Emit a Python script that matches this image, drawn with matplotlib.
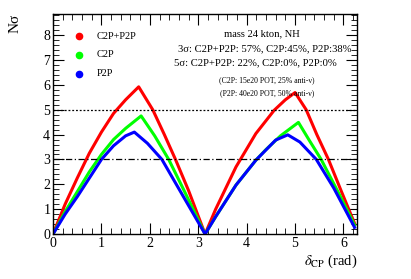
import matplotlib
matplotlib.use("Agg")
import matplotlib.pyplot as plt
import numpy as np
from matplotlib.ticker import MultipleLocator

plt.rcParams['font.family'] = ['Liberation Serif', 'DejaVu Serif']
plt.rcParams['mathtext.fontset'] = 'stix'

# delta_CP values (rad) and significance for each configuration
red_x = [0.0, 0.25, 0.5, 0.75, 1.0, 1.25, 1.5, 1.77, 2.06, 2.3, 2.53, 2.8, 3.1416,
         3.36, 3.78, 4.19, 4.57, 4.8, 5.0, 5.23, 5.45, 5.69, 5.95, 6.23]
red_y = [0.0, 1.2, 2.25, 3.25, 4.1, 4.85, 5.4, 5.92, 5.0, 4.0, 3.0, 1.75, 0.0,
         1.0, 2.7, 4.04, 4.98, 5.4, 5.69, 5.0, 4.0, 3.0, 1.75, 0.43]

green_x = [0.0, 0.25, 0.5, 0.75, 1.0, 1.25, 1.5, 1.82, 2.1, 2.39, 2.7, 3.1416,
           3.36, 3.78, 4.19, 4.4, 4.7, 5.07, 5.3, 5.54, 5.9, 6.23]
green_y = [0.0, 0.9, 1.7, 2.5, 3.2, 3.8, 4.25, 4.75, 3.95, 3.0, 1.78, 0.0,
           0.7, 1.97, 2.97, 3.4, 3.95, 4.49, 3.75, 3.0, 1.65, 0.36]

blue_x = [0.0, 0.25, 0.5, 0.75, 1.0, 1.25, 1.5, 1.68, 1.95, 2.25, 2.6, 3.1416,
          3.36, 3.78, 4.19, 4.6, 4.85, 5.1, 5.44, 5.8, 6.23]
blue_y = [0.0, 0.8, 1.5, 2.25, 3.0, 3.55, 3.95, 4.1, 3.65, 3.0, 1.82, 0.0,
          0.7, 1.97, 2.97, 3.78, 3.99, 3.7, 3.0, 1.85, 0.27]

labels = ['C2P+P2P', 'C2P', 'P2P']
colors = ['#ff0000', '#00ff00', '#0000ff']

fig = plt.figure(figsize=(4.11, 2.79), dpi=100)
ax = fig.add_axes([0.129, 0.161, 0.740, 0.789])

for xs, ys, c, lab in zip([red_x, green_x, blue_x], [red_y, green_y, blue_y], colors, labels):
    ax.plot(xs, ys, color=c, lw=2.2, solid_joinstyle='round', label=lab)

ax.axhline(5, color='black', lw=0.9, ls=(0, (1.5, 1.5)))
ax.axhline(3, color='black', lw=0.9, ls=(0, (5, 2, 1, 2)))

ax.set_xlim(0, 2 * np.pi)
ax.set_ylim(0, 8.85)
ax.xaxis.set_major_locator(MultipleLocator(1))
ax.xaxis.set_minor_locator(MultipleLocator(0.2))
ax.yaxis.set_major_locator(MultipleLocator(1))
ax.yaxis.set_minor_locator(MultipleLocator(0.2))
ax.tick_params(which='both', direction='in', top=True, right=True, labelsize=10, pad=2)
ax.tick_params(which='major', length=8, width=0.8)
ax.tick_params(which='minor', length=4, width=0.6)
for s in ax.spines.values():
    s.set_linewidth(1.0)

# legend as markers + text
leg_y = [7.95, 7.2, 6.45]
for yy, c, lab in zip(leg_y, colors, labels):
    ax.plot([0.53], [yy], 'o', color=c, ms=4.5)
    ax.text(0.9, yy, lab, fontsize=7.5, va='center', ha='left')

ax.text(4.32, 8.04, 'mass 24 kton, NH', fontsize=7.6, ha='center', va='center')
ax.text(4.38, 7.45, '3σ: C2P+P2P: 57%, C2P:45%, P2P:38%', fontsize=7.7, ha='center', va='center')
ax.text(4.18, 6.87, '5σ: C2P+P2P: 22%, C2P:0%, P2P:0%', fontsize=7.7, ha='center', va='center')
ax.text(4.42, 6.2, '(C2P: 15e20 POT, 25% anti-ν)', fontsize=5.6, ha='center', va='center')
ax.text(4.42, 5.66, '(P2P: 40e20 POT, 50% anti-ν)', fontsize=5.6, ha='center', va='center')

ax.set_xlabel(r'$\delta_{\mathrm{CP}}$ (rad)', fontsize=10.5, ha='right', x=1.0, labelpad=2)
ax.set_ylabel('Nσ', fontsize=11, ha='right')
ax.yaxis.set_label_coords(-0.105, 1.0)

fig.savefig('out.png', dpi=100)
